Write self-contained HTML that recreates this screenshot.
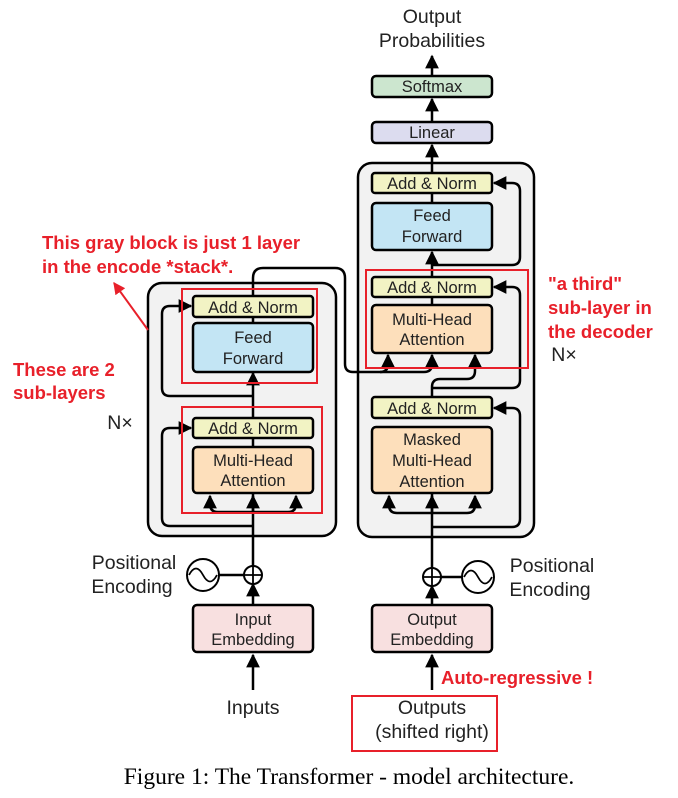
<!DOCTYPE html>
<html><head><meta charset="utf-8"><style>
body{margin:0;background:#fff;width:678px;height:798px;overflow:hidden}
svg{display:block}
.t{font-family:"Liberation Sans",sans-serif;fill:#222;text-anchor:middle}
.r{font-family:"Liberation Sans",sans-serif;fill:#e8202a;font-weight:bold}
</style></head><body>
<svg width="678" height="798" viewBox="0 0 678 798" xmlns="http://www.w3.org/2000/svg">
<defs><marker id="a" viewBox="0 0 10 10" refX="9" refY="5" markerWidth="5.5" markerHeight="5.5" orient="auto"><path d="M0,0L10,5L0,10z" fill="#000"/></marker>
<marker id="ra" viewBox="0 0 10 10" refX="9" refY="5" markerWidth="6" markerHeight="6" orient="auto"><path d="M0,0L10,5L0,10z" fill="#e8202a"/></marker></defs>

<rect x="148" y="283" width="188" height="253" rx="14" fill="#f2f2f2" stroke="#000" stroke-width="2.5"/>
<rect x="358" y="163" width="176" height="374" rx="14" fill="#f2f2f2" stroke="#000" stroke-width="2.5"/>

<g fill="none" stroke="#000" stroke-width="2.5">
<path d="M253 690 V655" marker-end="url(#a)"/>
<path d="M253 605 V584" marker-end="url(#a)"/>
<path d="M253 566 V493"/>
<path d="M253 438 V447"/>
<path d="M253 418 V373" marker-end="url(#a)"/>
<path d="M253 317 V323"/>
<path d="M253 296 V278 Q253 268 263 268 H335 Q345 268 345 278 V364 Q345 372 353 372 H380 Q388 372 388 364 V355" marker-end="url(#a)"/>
<path d="M380 372 Q388 372 396 372 H424 Q432 372 432 364 V355" marker-end="url(#a)"/>
<path d="M253 512 H218 Q210 512 210 504 V496" marker-end="url(#a)"/>
<path d="M253 512 H288 Q296 512 296 504 V496" marker-end="url(#a)"/>
<path d="M253 512 V496" marker-end="url(#a)"/>
<path d="M253 526 H170 Q162 526 162 518 V436 Q162 428 170 428 H191" marker-end="url(#a)"/>
<path d="M253 396 H170 Q162 396 162 388 V314 Q162 306 170 306 H191" marker-end="url(#a)"/>
<path d="M219 575 H244"/>
<path d="M432 690 V655" marker-end="url(#a)"/>
<path d="M432 605 V586" marker-end="url(#a)"/>
<path d="M432 568 V493"/>
<path d="M432 513 H397 Q389 513 389 505 V496" marker-end="url(#a)"/>
<path d="M432 513 H467 Q475 513 475 505 V496" marker-end="url(#a)"/>
<path d="M432 513 V496" marker-end="url(#a)"/>
<path d="M432 527 H512 Q520 527 520 519 V416 Q520 408 512 408 H494" marker-end="url(#a)"/>
<path d="M432 397 V387 Q432 379 440 379 H467 Q475 379 475 371 V355" marker-end="url(#a)"/>
<path d="M432 388 H512 Q520 388 520 380 V295 Q520 287 512 287 H494" marker-end="url(#a)"/>
<path d="M432 277 V252" marker-end="url(#a)"/>
<path d="M432 265 H512 Q520 265 520 257 V191 Q520 183 512 183 H494" marker-end="url(#a)"/>
<path d="M432 297 V305"/>
<path d="M432 193 V203"/>
<path d="M432 173 V145" marker-end="url(#a)"/>
<path d="M432 122 V99" marker-end="url(#a)"/>
<path d="M432 76 V56" marker-end="url(#a)"/>
<path d="M441 577 H462"/>
</g>

<g stroke="#000" stroke-width="2.5">
<rect x="193" y="296" width="120" height="21" rx="3" fill="#f2f3c4"/>
<rect x="193" y="323" width="120" height="49" rx="4" fill="#c3e5f4"/>
<rect x="193" y="418" width="120" height="20" rx="3" fill="#f2f3c4"/>
<rect x="193" y="447" width="120" height="46" rx="4" fill="#fddfbb"/>
<rect x="193" y="605" width="120" height="47" rx="4" fill="#f8e0e0"/>
<rect x="372" y="173" width="120" height="20" rx="3" fill="#f2f3c4"/>
<rect x="372" y="203" width="120" height="47" rx="4" fill="#c3e5f4"/>
<rect x="372" y="277" width="120" height="20" rx="3" fill="#f2f3c4"/>
<rect x="372" y="305" width="120" height="48" rx="4" fill="#fddfbb"/>
<rect x="372" y="397" width="120" height="21" rx="3" fill="#f2f3c4"/>
<rect x="372" y="427" width="120" height="66" rx="4" fill="#fddfbb"/>
<rect x="372" y="605" width="120" height="47" rx="4" fill="#f8e0e0"/>
<rect x="372" y="122" width="120" height="21" rx="4" fill="#dcdcef"/>
<rect x="372" y="76" width="120" height="21" rx="4" fill="#cce6cf"/>
</g>
<g fill="#fff" stroke="#000" stroke-width="2">
<circle cx="253" cy="575" r="9"/><circle cx="432" cy="577" r="9"/>
<circle cx="203" cy="575" r="16"/><circle cx="478" cy="577" r="16"/>
</g>
<g fill="none" stroke="#000" stroke-width="1.8">
<path d="M244 575H262M253 566V584M423 577H441M432 568V586"/>
<path d="M189 575 Q196 562 203 575 T217 575"/>
<path d="M464 577 Q471 564 478 577 T492 577"/>
</g>

<g fill="none" stroke="#e8202a" stroke-width="2">
<rect x="182" y="289" width="135" height="94"/>
<rect x="182" y="407" width="140" height="106"/>
<rect x="366" y="270" width="162" height="98"/>
<rect x="352" y="696" width="145" height="55"/>
</g>
<path d="M148 330 L114 283" stroke="#e8202a" stroke-width="2" marker-end="url(#ra)"/>

<g class="t" font-size="16.5">
<text x="253" y="313">Add &amp; Norm</text>
<text x="253" y="343">Feed</text><text x="253" y="364">Forward</text>
<text x="253" y="434">Add &amp; Norm</text>
<text x="253" y="466">Multi-Head</text><text x="253" y="486">Attention</text>
<text x="253" y="625">Input</text><text x="253" y="645">Embedding</text>
<text x="432" y="189">Add &amp; Norm</text>
<text x="432" y="221">Feed</text><text x="432" y="242">Forward</text>
<text x="432" y="293">Add &amp; Norm</text>
<text x="432" y="325">Multi-Head</text><text x="432" y="345">Attention</text>
<text x="432" y="414">Add &amp; Norm</text>
<text x="432" y="445">Masked</text><text x="432" y="466">Multi-Head</text><text x="432" y="487">Attention</text>
<text x="432" y="625">Output</text><text x="432" y="645">Embedding</text>
<text x="432" y="138">Linear</text>
<text x="432" y="92">Softmax</text>
</g>
<g class="t" font-size="19.5">
<text x="432" y="23">Output</text><text x="432" y="47">Probabilities</text>
<text x="253" y="714">Inputs</text>
<text x="432" y="714">Outputs</text><text x="432" y="738">(shifted right)</text>
<text x="134" y="569">Positional</text><text x="132" y="593">Encoding</text>
<text x="552" y="572">Positional</text><text x="550" y="596">Encoding</text>
<text x="120" y="429">N×</text><text x="564" y="361">N×</text>
</g>
<g class="r" font-size="18.5">
<text x="42" y="249">This gray block is just 1 layer</text>
<text x="42" y="273">in the encode *stack*.</text>
<text x="13" y="376">These are 2</text>
<text x="13" y="399">sub-layers</text>
<text x="548" y="290">"a third"</text>
<text x="548" y="314">sub-layer in</text>
<text x="548" y="338">the decoder</text>
<text x="441" y="684">Auto-regressive !</text>
</g>
<text x="349" y="784" font-family="Liberation Serif,serif" font-size="23.5" text-anchor="middle" fill="#000">Figure 1: The Transformer - model architecture.</text>
</svg>
</body></html>
